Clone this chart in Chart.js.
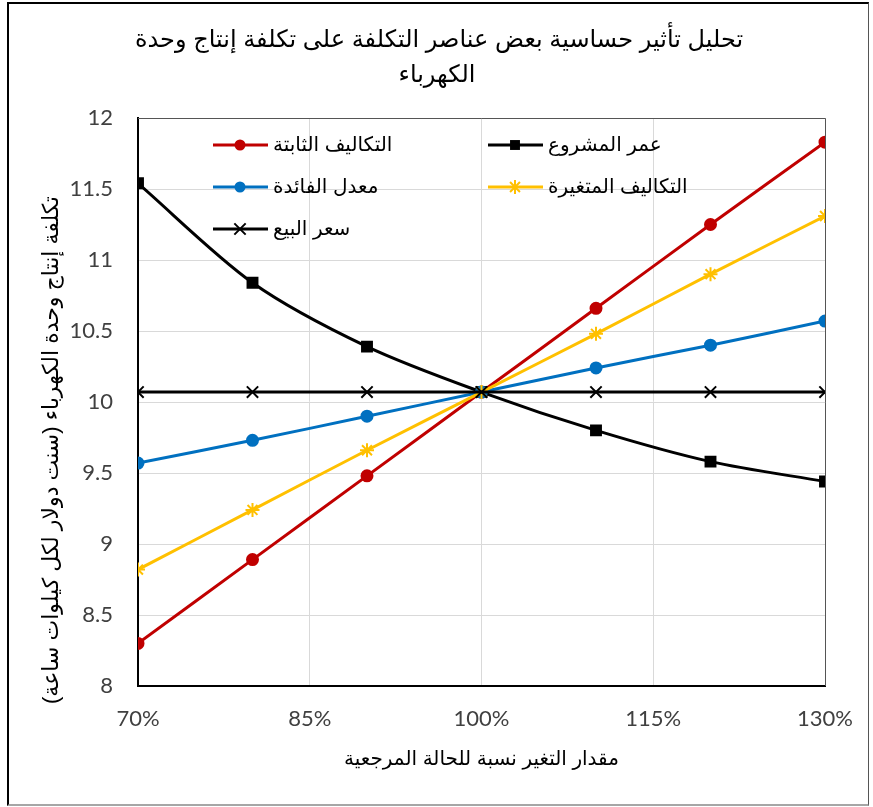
<!DOCTYPE html>
<html>
<head>
<meta charset="utf-8">
<script src="https://cdn.jsdelivr.net/npm/chart.js@4.4.1/dist/chart.umd.min.js"></script>
<style>
html,body{margin:0;padding:0;background:#fff;}
#wrap{position:relative;width:873px;height:807px;}
#frame{position:absolute;left:7px;top:2px;width:859px;height:800px;border-left:2px solid #000;border-top:2px solid #000;border-right:1px solid #555;border-bottom:2px solid #a6a6a6;pointer-events:none;}
canvas{position:absolute;left:0;top:0;}
</style>
</head>
<body>
<div id="wrap">
<canvas id="sensChart" width="873" height="807" dir="rtl"></canvas>
<div id="frame"></div>
</div>
<script>

// percent change from the reference case
const xPct = [70, 80, 90, 100, 110, 120, 130];

const fixedCosts    = [8.30, 8.89, 9.48, 10.07, 10.66, 11.25, 11.83];
const projectLife   = [11.54, 10.84, 10.39, 10.07, 9.80, 9.58, 9.44];
const interestRate  = [9.57, 9.73, 9.90, 10.07, 10.24, 10.40, 10.57];
const variableCosts = [8.82, 9.24, 9.66, 10.07, 10.48, 10.90, 11.31];
const salePrice     = [10.07, 10.07, 10.07, 10.07, 10.07, 10.07, 10.07];

const seriesNames = ["التكاليف الثابتة","عمر المشروع","معدل الفائدة","التكاليف المتغيرة","سعر البيع"];

const xTickValues = [70, 85, 100, 115, 130];
const yTickValues = [8, 8.5, 9, 9.5, 10, 10.5, 11, 11.5, 12];

const titleLines = ["تحليل تأثير حساسية بعض عناصر التكلفة على تكلفة إنتاج وحدة","الكهرباء"];
const xTitle = "مقدار التغير نسبة للحالة المرجعية";
const yTitle = "تكلفة إنتاج وحدة الكهرباء (سنت دولار لكل كيلوات ساعة)";

const arFont = '"Liberation Sans","DejaVu Sans",sans-serif';

function pts(arr){
return xPct.map((x,i)=>({x:x,y:arr[i]}));
}

function drawMarker(ctx,style,x,y,r,fill,stroke){
ctx.save();
ctx.fillStyle=fill;
ctx.strokeStyle=stroke;
ctx.lineWidth=2;
ctx.beginPath();
if(style==="circle"){
ctx.arc(x,y,r,0,Math.PI*2);
ctx.fill();
}else if(style==="rect"){
let s=r*Math.SQRT1_2;
ctx.rect(x-s,y-s,2*s,2*s);
ctx.fill();
}else if(style==="star"){
for(let a=0;a<4;a++){
let ang=a*Math.PI/4;
ctx.moveTo(x-Math.cos(ang)*r,y-Math.sin(ang)*r);
ctx.lineTo(x+Math.cos(ang)*r,y+Math.sin(ang)*r);
}
ctx.stroke();
}else if(style==="crossRot"){
let d=r*Math.SQRT1_2;
ctx.moveTo(x-d,y-d);ctx.lineTo(x+d,y+d);
ctx.moveTo(x+d,y-d);ctx.lineTo(x-d,y+d);
ctx.stroke();
}
ctx.restore();
}

// excel style legend, two columns inside the plot
const legendSlots=[[213,145],[488,145],[213,187],[488,187],[213,229]];

const excelExtras={
id:"excelExtras",
beforeDatasetsDraw(chart){
const ctx=chart.ctx;
const a=chart.chartArea;
ctx.save();
ctx.strokeStyle="#555";
ctx.lineWidth=1;
ctx.beginPath();
ctx.moveTo(a.left,a.top+0.5);
ctx.lineTo(a.right+0.5,a.top+0.5);
ctx.lineTo(a.right+0.5,a.bottom);
ctx.stroke();
ctx.restore();
},
afterDraw(chart){
const ctx=chart.ctx;
ctx.save();
ctx.fillStyle="#000";
ctx.font='24px '+arFont;
ctx.textAlign="center";
ctx.textBaseline="middle";
ctx.fillText(titleLines[0],439,40);
ctx.fillText(titleLines[1],437,75);

// y axis title, rotated
ctx.save();
ctx.translate(52,450);
ctx.rotate(-Math.PI/2);
ctx.font='22px '+arFont;
ctx.fillText(yTitle,0,0);
ctx.restore();

ctx.font='20px '+arFont;
ctx.textAlign="left";
chart.data.datasets.forEach((ds,i)=>{
let [lx,ly]=legendSlots[i];
ctx.strokeStyle=ds.borderColor;
ctx.lineWidth=3;
ctx.beginPath();
ctx.moveTo(lx,ly);
ctx.lineTo(lx+55,ly);
ctx.stroke();
drawMarker(ctx,ds.pointStyle,lx+27,ly,ds.pointRadius,ds.pointBackgroundColor,ds.pointBorderColor);
ctx.fillStyle="#000";
ctx.fillText(ds.label,lx+60,ly);
});
ctx.restore();
}
};

function makeSet(name,arr,color,style,radius,order){
return {
label:name,
data:pts(arr),
borderColor:color,
backgroundColor:color,
pointBackgroundColor:color,
pointBorderColor:color,
pointStyle:style,
pointRadius:radius,
pointBorderWidth:2,
borderWidth:3,
tension:0.3,
order:order
};
}

new Chart(document.getElementById("sensChart"),{
type:"line",
data:{
datasets:[
makeSet(seriesNames[0],fixedCosts,"#C00000","circle",5.5,5),
makeSet(seriesNames[1],projectLife,"#000000","rect",7,4),
makeSet(seriesNames[2],interestRate,"#0070C0","circle",5.5,3),
makeSet(seriesNames[3],variableCosts,"#FFC000","star",7,2),
makeSet(seriesNames[4],salePrice,"#000000","crossRot",8,1)
]
},
options:{
responsive:false,
animation:false,
layout:{padding:{top:118,right:48,left:0,bottom:0}},
plugins:{
legend:{display:false},
title:{display:false},
tooltip:{enabled:false}
},
scales:{
x:{
type:"linear",
min:70,
max:130,
afterBuildTicks:s=>{s.ticks=xTickValues.map(v=>({value:v}));},
afterFit:s=>{s.height=121;},
ticks:{
color:"#404040",
padding:20,
font:{family:"Lato",size:22},
callback:v=>v+"%"
},
grid:{color:"#d9d9d9",lineWidth:1,drawTicks:false},
border:{color:"#000",width:2},
title:{
display:true,
text:xTitle,
color:"#000",
font:{family:arFont,size:20},
padding:{top:0,bottom:36}
}
},
y:{
min:8,
max:12,
afterBuildTicks:s=>{s.ticks=yTickValues.map(v=>({value:v}));},
afterFit:s=>{s.width=138;},
ticks:{
color:"#404040",
padding:25,
font:{family:"Lato",size:22},
callback:v=>String(v)
},
grid:{color:"#d9d9d9",lineWidth:1,drawTicks:false},
border:{color:"#000",width:2},
title:{display:false}
}
}
},
plugins:[excelExtras]
});

</script>
</body>
</html>
